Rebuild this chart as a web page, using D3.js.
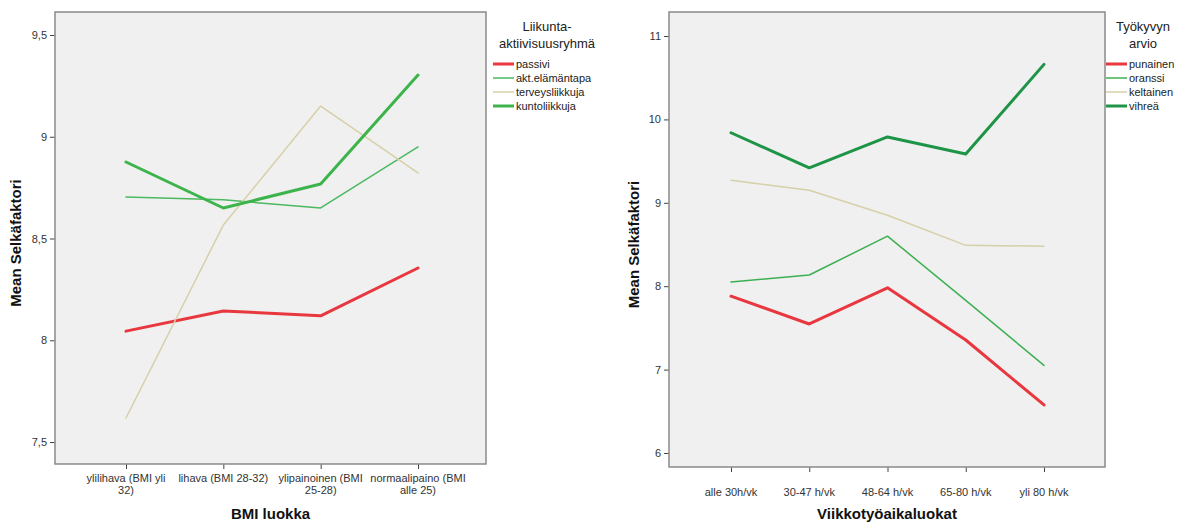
<!DOCTYPE html>
<html><head><meta charset="utf-8">
<script src="https://cdn.jsdelivr.net/npm/d3@7"></script>
<style>
html,body{margin:0;padding:0;background:#fff;}
svg text{font-family:"Liberation Sans",Arial,sans-serif;}
</style></head>
<body>
<svg id="c" width="1181" height="522"></svg>
<script>
// ---- Data ----
const bmiCategories = [["ylilihava (BMI yli","32)"],["lihava (BMI 28-32)"],["ylipainoinen (BMI","25-28)"],["normaalipaino (BMI","alle 25)"]];
const bmiTicks = [7.5, 8, 8.5, 9, 9.5];
const bmiTickLabels = ["7,5","8","8,5","9","9,5"];
const bmiSeriesNames = ["passivi","akt.elämäntapa","terveysliikkuja","kuntoliikkuja"];
const passivi = [8.045, 8.144, 8.12, 8.355];
const aktElamantapa = [8.704, 8.69, 8.65, 8.95];
const terveysliikkuja = [7.618, 8.566, 9.151, 8.822];
const kuntoliikkuja = [8.876, 8.65, 8.768, 9.303];

const workCategories = [["alle 30h/vk"],["30-47 h/vk"],["48-64 h/vk"],["65-80 h/vk"],["yli 80 h/vk"]];
const workTicks = [6, 7, 8, 9, 10, 11];
const workTickLabels = ["6","7","8","9","10","11"];
const workSeriesNames = ["punainen","oranssi","keltainen","vihreä"];
const punainen = [7.88, 7.547, 7.98, 7.355, 6.576];
const oranssi = [8.05, 8.134, 8.60, 7.83, 7.05];
const keltainen = [9.27, 9.15, 8.85, 8.49, 8.48];
const vihrea = [9.84, 9.42, 9.79, 9.585, 10.66];

const svg = d3.select("#c");

function panel(cfg){
  const g = svg.append("g");
  const {x0,x1,y0,y1} = cfg.frame;
  g.append("rect").attr("x",x0).attr("y",y0).attr("width",x1-x0).attr("height",y1-y0)
    .attr("fill","#f0f0f0");
  const idx = cfg.categories.map((d,i)=>i);
  const x = d3.scalePoint().domain(idx).range(cfg.xRange);
  const y = d3.scaleLinear().domain(cfg.yDomain).range([y1,y0]);

  // y axis
  const ya = d3.axisLeft(y).tickValues(cfg.ticks).tickSize(5).tickPadding(3)
    .tickFormat((d,i)=>cfg.tickLabels[i]);
  const yg = g.append("g").attr("transform",`translate(${x0},0)`).call(ya);
  yg.select(".domain").remove();
  yg.selectAll("line").attr("stroke","#444");
  yg.selectAll("text").attr("fill","#333").style("font-size","11px");

  // x axis
  const xa = d3.axisBottom(x).tickSize(5).tickFormat("");
  const xg = g.append("g").attr("transform",`translate(0,${y1})`).call(xa);
  xg.select(".domain").remove();
  xg.selectAll("line").attr("stroke","#444");
  idx.forEach(i=>{
    const t = g.append("text").attr("x",x(i)).attr("text-anchor","middle")
      .attr("fill","#333").style("font-size","11px");
    cfg.categories[i].forEach((s,k)=>{
      t.append("tspan").attr("x",x(i)).attr("y",cfg.labelY + k*12).text(s);
    });
  });

  // lines
  const line = d3.line().x((d,i)=>x(i)).y(d=>y(d));
  cfg.series.forEach(s=>{
    g.append("path").datum(s.values).attr("d",line).attr("fill","none")
      .attr("stroke",s.color).attr("stroke-width",s.width)
      .attr("stroke-linejoin","round").attr("stroke-linecap","round");
  });

  // frame
  g.append("rect").attr("x",x0).attr("y",y0).attr("width",x1-x0).attr("height",y1-y0)
    .attr("fill","none").attr("stroke","#8a8a8a").attr("stroke-width",1.5);

  // titles
  g.append("text").attr("x",(x0+x1)/2).attr("y",519).attr("text-anchor","middle")
    .style("font-size","15px").style("font-weight","bold").attr("fill","#111").text(cfg.xTitle);
  g.append("text").attr("transform",`translate(${cfg.yTitleX},${(y0+y1)/2+5}) rotate(-90)`)
    .attr("text-anchor","middle").style("font-size","15px").style("font-weight","bold")
    .attr("fill","#111").text("Mean Selkäfaktori");

  // legend
  const L = cfg.legend;
  L.title.forEach((s,k)=>{
    g.append("text").attr("x",L.titleX).attr("y",31 + k*17).attr("text-anchor","middle")
      .style("font-size","13px").attr("fill","#222").text(s);
  });
  cfg.series.forEach((s,k)=>{
    const yy = 64 + k*14;
    g.append("line").attr("x1",L.x).attr("x2",L.x+21).attr("y1",yy).attr("y2",yy)
      .attr("stroke",s.color).attr("stroke-width",s.width);
    g.append("text").attr("x",L.x+23).attr("y",yy+4).style("font-size","11px")
      .attr("fill","#222").text(s.name);
  });
}

panel({
  frame:{x0:55,x1:486,y0:12,y1:464},
  xRange:[126,418],
  yDomain:[7.392,9.613],
  ticks:bmiTicks, tickLabels:bmiTickLabels,
  categories:bmiCategories, labelY:482,
  xTitle:"BMI luokka", yTitleX:21,
  series:[
    {name:bmiSeriesNames[0],values:passivi,color:"#e8373f",width:3},
    {name:bmiSeriesNames[1],values:aktElamantapa,color:"#4cb860",width:1.5},
    {name:bmiSeriesNames[2],values:terveysliikkuja,color:"#d6d0a8",width:1.5},
    {name:bmiSeriesNames[3],values:kuntoliikkuja,color:"#3cb44b",width:3}
  ],
  legend:{title:["Liikunta-","aktiivisuusryhmä"],titleX:547,x:493}
});

panel({
  frame:{x0:669,x1:1105,y0:12,y1:467},
  xRange:[731,1044],
  yDomain:[5.832,11.288],
  ticks:workTicks, tickLabels:workTickLabels,
  categories:workCategories, labelY:496,
  xTitle:"Viikkotyöaikaluokat", yTitleX:639,
  series:[
    {name:workSeriesNames[0],values:punainen,color:"#e8373f",width:3},
    {name:workSeriesNames[1],values:oranssi,color:"#3cb050",width:1.5},
    {name:workSeriesNames[2],values:keltainen,color:"#d6d0a8",width:1.5},
    {name:workSeriesNames[3],values:vihrea,color:"#1e9447",width:3}
  ],
  legend:{title:["Työkyvyn","arvio"],titleX:1143,x:1106}
});
</script>
</body></html>
